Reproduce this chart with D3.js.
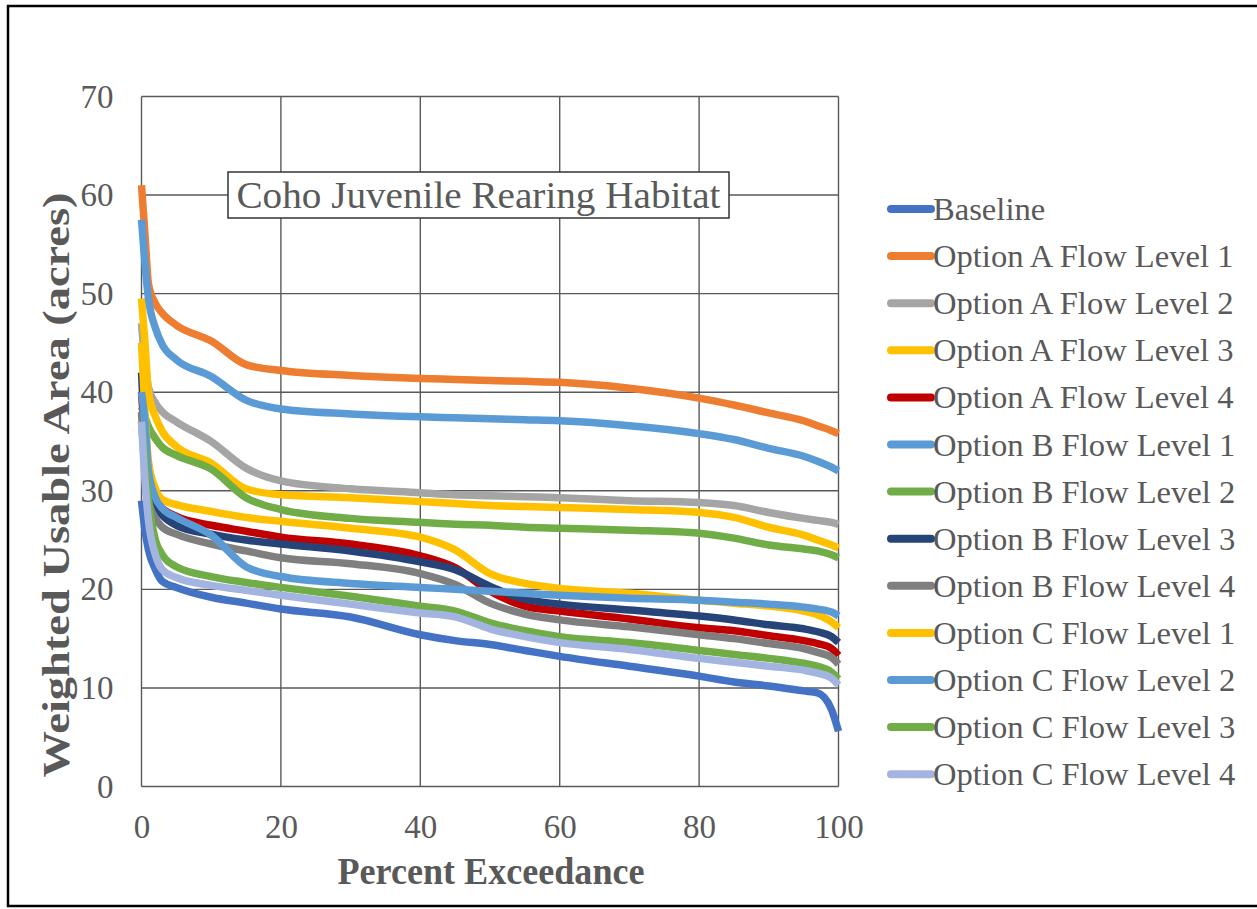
<!DOCTYPE html>
<html>
<head>
<meta charset="utf-8">
<script src="https://cdn.jsdelivr.net/npm/d3@7"></script>
<style>
  html, body { margin: 0; padding: 0; background: #fff; }
  svg { display: block; }
  text { font-family: "Liberation Serif", "Times New Roman", serif; fill: #595959; }
</style>
</head>
<body>
<svg id="chart" width="1257" height="909"></svg>
<script>
// ---------- data ----------
const pct = [0, 0.5, 1, 2, 3, 5, 10, 15, 20, 30, 40, 45, 50, 55, 60, 70, 80, 85, 90, 95, 97, 99, 100];

const seriesNames = [
  "Baseline",
  "Option A Flow Level 1", "Option A Flow Level 2", "Option A Flow Level 3", "Option A Flow Level 4",
  "Option B Flow Level 1", "Option B Flow Level 2", "Option B Flow Level 3", "Option B Flow Level 4",
  "Option C Flow Level 1", "Option C Flow Level 2", "Option C Flow Level 3", "Option C Flow Level 4"
];

const baseline = [29, 26, 24, 22, 20.8, 20.2, 19.2, 18.6, 18.0, 17.2, 15.4, 14.8, 14.4, 13.8, 13.2, 12.2, 11.2, 10.6, 10.2, 9.7, 9.5, 7.8, 5.6];
const optA1 = [61, 56, 51, 49, 48, 46.8, 45.2, 42.8, 42.2, 41.7, 41.4, 41.3, 41.2, 41.1, 41.0, 40.4, 39.4, 38.7, 37.9, 37.1, 36.6, 36.1, 35.8];
const optA2 = [47, 43, 40.5, 38.9, 38.0, 37.0, 35.0, 32.3, 31.0, 30.2, 29.8, 29.6, 29.5, 29.4, 29.3, 29.0, 28.8, 28.5, 27.8, 27.2, 27.0, 26.8, 26.6];
const optA3 = [49.5, 45, 40, 37.5, 36.0, 34.5, 32.8, 30.2, 29.6, 29.3, 28.9, 28.7, 28.5, 28.4, 28.3, 28.1, 27.8, 27.3, 26.3, 25.5, 25.0, 24.5, 24.2];
const optA4 = [40, 35, 31, 29, 28.2, 27.4, 26.5, 25.9, 25.3, 24.6, 23.4, 22.2, 19.8, 18.3, 17.8, 17.0, 16.1, 15.8, 15.3, 14.8, 14.5, 14.0, 13.3];
const optB1 = [57.5, 53, 49.5, 46.5, 44.8, 43.3, 41.6, 39.2, 38.3, 37.8, 37.5, 37.4, 37.3, 37.2, 37.1, 36.6, 35.8, 35.2, 34.3, 33.5, 33.0, 32.4, 32.0];
const optB2 = [38.5, 37.5, 36.5, 35.3, 34.4, 33.6, 32.2, 29.3, 28.1, 27.2, 26.8, 26.6, 26.5, 26.3, 26.2, 26.0, 25.7, 25.2, 24.5, 24.1, 23.9, 23.5, 23.2];
const optB3 = [42, 35, 30.5, 28.5, 27.5, 26.5, 25.6, 25.0, 24.6, 23.9, 22.8, 22.0, 20.3, 19.0, 18.5, 17.9, 17.3, 16.9, 16.4, 16.0, 15.7, 15.2, 14.6];
const optB4 = [38, 32, 29, 27.2, 26.3, 25.6, 24.6, 23.9, 23.2, 22.6, 21.6, 20.5, 18.6, 17.5, 16.9, 16.2, 15.4, 15.0, 14.5, 14.0, 13.6, 13.1, 12.4];
const optC1 = [45, 38, 33, 30.2, 29.1, 28.6, 27.9, 27.3, 26.9, 26.2, 25.3, 24.0, 21.6, 20.6, 20.1, 19.6, 18.9, 18.6, 18.3, 17.8, 17.4, 16.7, 16.1];
const optC2 = [40, 37, 32, 29.3, 28.2, 27.3, 25.5, 22.3, 21.3, 20.6, 20.2, 20.0, 19.8, 19.6, 19.4, 19.1, 18.9, 18.7, 18.5, 18.2, 18.0, 17.7, 17.3];
const optC3 = [37, 33, 29, 25, 23.5, 22.3, 21.3, 20.7, 20.2, 19.3, 18.3, 17.8, 16.6, 15.8, 15.2, 14.6, 13.8, 13.4, 13.0, 12.5, 12.2, 11.6, 10.9];
const optC4 = [37, 31, 27, 23.5, 22, 21.2, 20.4, 19.9, 19.4, 18.5, 17.6, 17.2, 16.0, 15.2, 14.6, 13.9, 13.0, 12.6, 12.2, 11.8, 11.5, 11.0, 10.3];

const seriesColors = ["#4472C4", "#ED7D31", "#A5A5A5", "#FFC000", "#C00000",
  "#5B9BD5", "#70AD47", "#264478", "#7F7F7F", "#FFC000", "#5B9BD5", "#70AD47", "#A2B4DF"];

const xTicks = [0, 20, 40, 60, 80, 100];
const yTicks = [0, 10, 20, 30, 40, 50, 60, 70];

const chartTitle = "Coho Juvenile Rearing Habitat";
const xTitle = "Percent Exceedance";
const yTitle = "Weighted Usable Area (acres)";

// ---------- drawing ----------
const allValues = [baseline, optA1, optA2, optA3, optA4, optB1, optB2, optB3, optB4, optC1, optC2, optC3, optC4];
const series = seriesNames.map((name, i) => ({
  name, color: seriesColors[i],
  points: pct.map((p, j) => ({ p, v: allValues[i][j] }))
}));

const svg = d3.select("#chart");
const x = d3.scaleLinear().domain([0, 100]).range([141.5, 838.5]);
const y = d3.scaleLinear().domain([0, 70]).range([786.5, 96.5]);

// outer frame
svg.append("rect").attr("x", 8).attr("y", 6).attr("width", 1262).attr("height", 900)
  .attr("fill", "none").attr("stroke", "#000").attr("stroke-width", 2.5);

const gridColor = "#595959";
// grid
svg.append("g").selectAll("line.h").data(yTicks).join("line")
  .attr("x1", x(0)).attr("x2", x(100))
  .attr("y1", d => y(d)).attr("y2", d => y(d))
  .attr("stroke", gridColor).attr("stroke-width", 1.4);
svg.append("g").selectAll("line.v").data(xTicks).join("line")
  .attr("y1", y(0)).attr("y2", y(70))
  .attr("x1", d => x(d)).attr("x2", d => x(d))
  .attr("stroke", gridColor).attr("stroke-width", 1.4);

// axes labels
const yAxis = svg.append("g").attr("transform", `translate(${x(0)},0)`)
  .call(d3.axisLeft(y).tickValues(yTicks).tickSize(0).tickPadding(28).tickFormat(d3.format("d")));
yAxis.select(".domain").remove();
yAxis.selectAll("text").attr("font-size", 33).attr("fill", "#595959")
  .style("font-family", "'Liberation Serif', serif");

const xAxis = svg.append("g").attr("transform", `translate(0,${y(0)})`)
  .call(d3.axisBottom(x).tickValues(xTicks).tickSize(0).tickPadding(28).tickFormat(d3.format("d")));
xAxis.select(".domain").remove();
xAxis.selectAll("text").attr("font-size", 33).attr("fill", "#595959")
  .style("font-family", "'Liberation Serif', serif");

// title box
const tb = svg.append("g");
tb.append("rect").attr("x", 228).attr("y", 172).attr("width", 501).attr("height", 46)
  .attr("fill", "#fff").attr("stroke", "#333").attr("stroke-width", 1.5);
tb.append("text").attr("x", 478.5).attr("y", 195).attr("text-anchor", "middle")
  .attr("dominant-baseline", "central").attr("font-size", 38)
  .attr("textLength", 484).attr("lengthAdjust", "spacingAndGlyphs")
  .text(chartTitle);

// lines
const line = d3.line().x(d => x(d.p)).y(d => y(d.v)).curve(d3.curveMonotoneX);
svg.append("g").selectAll("path").data(series).join("path")
  .attr("d", d => line(d.points))
  .attr("fill", "none").attr("stroke", d => d.color)
  .attr("stroke-width", 7.5).attr("stroke-linejoin", "round").attr("stroke-linecap", "butt");

// axis titles
svg.append("text").attr("x", 491).attr("y", 884).attr("text-anchor", "middle")
  .attr("font-size", 37).attr("font-weight", "bold")
  .attr("textLength", 307).attr("lengthAdjust", "spacingAndGlyphs")
  .text(xTitle);
svg.append("text").attr("transform", "translate(56,485) rotate(-90)")
  .attr("text-anchor", "middle").attr("dominant-baseline", "central")
  .attr("font-size", 38).attr("font-weight", "bold")
  .attr("textLength", 585).attr("lengthAdjust", "spacingAndGlyphs")
  .text(yTitle);

// legend
const lg = svg.append("g").selectAll("g").data(series).join("g")
  .attr("transform", (d, i) => `translate(0,${209 + i * 47.1})`);
lg.append("line").attr("x1", 891).attr("x2", 931).attr("y1", 0).attr("y2", 0)
  .attr("stroke", d => d.color).attr("stroke-width", 8).attr("stroke-linecap", "round");
lg.append("text").attr("x", 933).attr("y", 0).attr("dominant-baseline", "central")
  .attr("font-size", 32.6).text(d => d.name);
</script>
</body>
</html>
